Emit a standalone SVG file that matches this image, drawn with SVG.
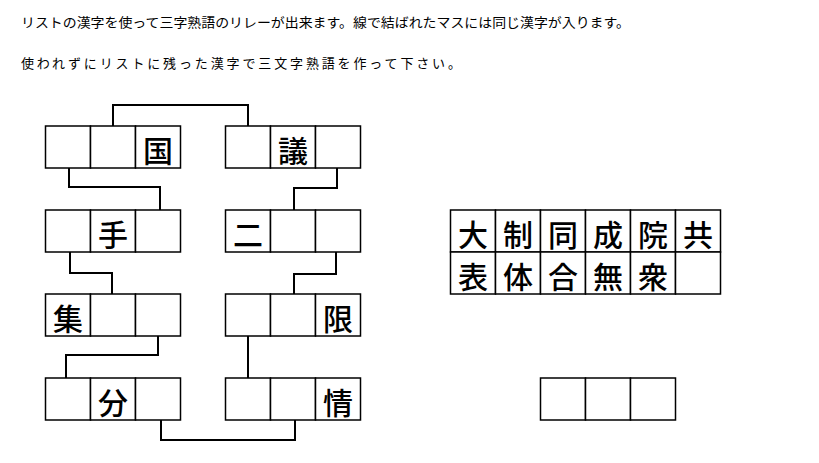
<svg xmlns="http://www.w3.org/2000/svg" width="819" height="463" viewBox="0 0 819 463">
<style>
.bg{fill:#fff}
.cell{fill:#fff;stroke:#000;stroke-width:1.5}
.ch{font-family:"Noto Sans CJK JP","Noto Sans CJK SC",sans-serif;font-size:30px;font-weight:500;text-anchor:middle;dominant-baseline:central;fill:#000}
.t{font-family:"Noto Sans CJK JP",sans-serif;font-size:13px;fill:#000}
.con{fill:none;stroke:#000;stroke-width:2}
</style>
<defs>
<g id="row3"><rect class="cell" x="0" y="0" width="45" height="42"/><rect class="cell" x="45" y="0" width="45" height="42"/><rect class="cell" x="90" y="0" width="45" height="42"/></g>
</defs>
<rect class="bg" width="819" height="463"/>
<text class="t" x="21" y="27" textLength="609" lengthAdjust="spacingAndGlyphs">リストの漢字を使って三字熟語のリレーが出来ます。線で結ばれたマスには同じ漢字が入ります。</text>
<text class="t" x="21" y="68" textLength="440" lengthAdjust="spacing">使われずにリストに残った漢字で三文字熟語を作って下さい。</text>
<g id="connectors">
<polyline class="con" points="113,126 113,105 248,105 248,126"/>
<polyline class="con" points="69,168 69,187 160,187 160,210"/>
<polyline class="con" points="337,168 337,188 294,188 294,210"/>
<polyline class="con" points="70,252 70,273 112,273 112,294"/>
<polyline class="con" points="336,252 336,274 294,274 294,294"/>
<polyline class="con" points="158,336 158,355 66,355 66,378"/>
<polyline class="con" points="248,336 248,378"/>
<polyline class="con" points="161,420 161,440 295,440 295,420"/>
</g>
<g id="L1"><use href="#row3" x="45.5" y="126"/><text class="ch" x="158" y="149">国</text></g>
<g id="R1"><use href="#row3" x="225.5" y="126"/><text class="ch" x="293" y="149">議</text></g>
<g id="L2"><use href="#row3" x="45.5" y="210"/><text class="ch" x="113" y="233">手</text></g>
<g id="R2"><use href="#row3" x="225.5" y="210"/><text class="ch" x="248" y="233">二</text></g>
<g id="L3"><use href="#row3" x="45.5" y="294"/><text class="ch" x="68" y="317">集</text></g>
<g id="R3"><use href="#row3" x="225.5" y="294"/><text class="ch" x="338" y="317">限</text></g>
<g id="L4"><use href="#row3" x="45.5" y="378"/><text class="ch" x="113" y="401">分</text></g>
<g id="R4"><use href="#row3" x="225.5" y="378"/><text class="ch" x="338" y="401">情</text></g>
<g id="list">
<use href="#row3" x="450.5" y="210"/><use href="#row3" x="585.5" y="210"/>
<use href="#row3" x="450.5" y="252"/><use href="#row3" x="585.5" y="252"/>
<text class="ch" x="473" y="233">大</text><text class="ch" x="518" y="233">制</text><text class="ch" x="563" y="233">同</text><text class="ch" x="608" y="233">成</text><text class="ch" x="653" y="233">院</text><text class="ch" x="698" y="233">共</text>
<text class="ch" x="473" y="275">表</text><text class="ch" x="518" y="275">体</text><text class="ch" x="563" y="275">合</text><text class="ch" x="608" y="275">無</text><text class="ch" x="653" y="275">衆</text>
</g>
<g id="answer"><use href="#row3" x="540.5" y="378"/></g>
</svg>
